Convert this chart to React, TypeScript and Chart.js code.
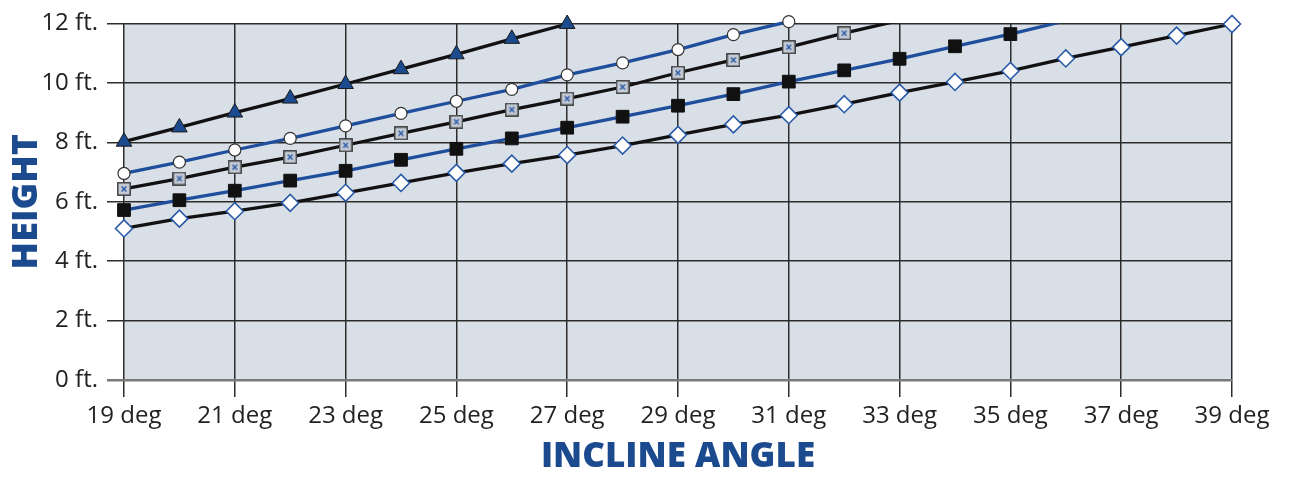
import React, { useEffect, useRef } from "react";
import { Chart, registerables } from "chart.js";

Chart.register(...registerables);

const xTickValues = [19, 21, 23, 25, 27, 29, 31, 33, 35, 37, 39];
const yTickValues = [0, 2, 4, 6, 8, 10, 12];

// Degrees for each series start at 19
const triangleHeights = [8.02, 8.5, 9.0, 9.47, 9.96, 10.46, 10.96, 11.48, 11.98];
const circleHeights = [6.95, 7.33, 7.74, 8.13, 8.55, 8.97, 9.38, 9.78, 10.27, 10.67, 11.12, 11.62, 12.06];
const squareXHeights = [6.43, 6.78, 7.16, 7.5, 7.9, 8.3, 8.69, 9.1, 9.47, 9.86, 10.34, 10.77, 11.2, 11.67];
const squareXLineEnd = [33, 12.1];
const blackSquareHeights = [5.72, 6.05, 6.37, 6.71, 7.04, 7.41, 7.78, 8.13, 8.49, 8.86, 9.23, 9.62, 10.04, 10.42, 10.81, 11.23, 11.64];
const blackSquareLineEnd = [36, 12.09];
const diamondHeights = [5.1, 5.43, 5.68, 5.96, 6.3, 6.63, 6.97, 7.28, 7.57, 7.89, 8.25, 8.6, 8.91, 9.28, 9.67, 10.03, 10.4, 10.82, 11.2, 11.59, 11.98];

const START_DEG = 19;
const BLUE = "#1c4a8e";
const LINE_BLUE = "#1f4f9c";
const LINE_BLACK = "#111111";

const toPoints = (vals: number[]) => vals.map((y, i) => ({ x: START_DEG + i, y }));

function makeSquareX(): HTMLCanvasElement {
  const c = document.createElement("canvas");
  c.width = 14;
  c.height = 14;
  const g = c.getContext("2d")!;
  g.fillStyle = "#c3cad3";
  g.fillRect(0.5, 0.5, 13, 13);
  g.strokeStyle = "#3a3a3a";
  g.lineWidth = 1.4;
  g.strokeRect(0.8, 0.8, 12.4, 12.4);
  g.strokeStyle = "#2b5aa8";
  g.lineWidth = 1.4;
  g.beginPath();
  g.moveTo(4.6, 4.6);
  g.lineTo(9.4, 9.4);
  g.moveTo(9.4, 4.6);
  g.lineTo(4.6, 9.4);
  g.stroke();
  return c;
}

const bgPlugin = {
  id: "plotBg",
  beforeDraw(chart: any) {
    const { ctx, chartArea } = chart;
    if (!chartArea) return;
    ctx.save();
    ctx.fillStyle = "#d8dfe7";
    ctx.fillRect(chartArea.left, chartArea.top, chartArea.right - chartArea.left, chartArea.bottom - chartArea.top);
    ctx.restore();
  },
};

export default function App() {
  const ref = useRef<HTMLCanvasElement>(null);

  useEffect(() => {
    document.body.style.margin = "0";
    const sq = makeSquareX();
    const sqPts = [...toPoints(squareXHeights), { x: squareXLineEnd[0], y: squareXLineEnd[1] }];
    const bsPts = [...toPoints(blackSquareHeights), { x: blackSquareLineEnd[0], y: blackSquareLineEnd[1] }];
    const chart = new Chart(ref.current!, {
      type: "line",
      data: {
        datasets: [
          {
            label: "diamond",
            data: toPoints(diamondHeights),
            borderColor: LINE_BLACK,
            borderWidth: 3.3,
            pointStyle: "rectRot",
            pointRadius: 8.5,
            pointBackgroundColor: "#ffffff",
            pointBorderColor: "#2a5aa6",
            pointBorderWidth: 1.6,
            clip: false,
          },
          {
            label: "blacksq",
            data: bsPts,
            borderColor: LINE_BLUE,
            borderWidth: 3.3,
            pointStyle: "rect",
            pointRadius: (c: any) => (c.dataIndex === bsPts.length - 1 ? 0 : 9),
            pointBackgroundColor: "#111111",
            pointBorderColor: "#111111",
            pointBorderWidth: 1,
            clip: { left: false, right: false, bottom: false, top: 0 } as any,
          },
          {
            label: "squarex",
            data: sqPts,
            borderColor: LINE_BLACK,
            borderWidth: 3.3,
            pointStyle: sq as any,
            pointRadius: (c: any) => (c.dataIndex === sqPts.length - 1 ? 0 : 7),
            clip: { left: false, right: false, bottom: false, top: 0 } as any,
          },
          {
            label: "circle",
            data: toPoints(circleHeights),
            borderColor: LINE_BLUE,
            borderWidth: 3.3,
            pointStyle: "circle",
            pointRadius: 6,
            pointBackgroundColor: "#ffffff",
            pointBorderColor: "#333333",
            pointBorderWidth: 1.2,
            clip: false,
          },
          {
            label: "triangle",
            data: toPoints(triangleHeights),
            borderColor: LINE_BLACK,
            borderWidth: 3.3,
            pointStyle: "triangle",
            pointRadius: 9,
            pointBackgroundColor: BLUE,
            pointBorderColor: "#1a1a1a",
            pointBorderWidth: 1,
            clip: false,
          },
        ],
      },
      options: {
        animation: false,
        responsive: false,
        events: [],
        layout: { padding: { top: 21, right: 57, left: 0, bottom: 0 } },
        plugins: { legend: { display: false }, tooltip: { enabled: false } },
        scales: {
          x: {
            type: "linear",
            min: 19,
            max: 39,
            afterBuildTicks: (s: any) => {
              s.ticks = xTickValues.map((v) => ({ value: v }));
            },
            afterFit: (s: any) => {
              s.height = 98;
            },
            grid: {
              color: "#2c2c2c",
              lineWidth: 1.5,
              drawTicks: true,
              tickLength: 17,
            },
            border: { display: false },
            ticks: {
              callback: (v: any) => `${v} deg`,
              font: { family: "'Open Sans'", size: 24 },
              color: "#222222",
              padding: 5,
              maxRotation: 0,
              autoSkip: false,
            },
            title: {
              display: true,
              text: "INCLINE ANGLE",
              color: BLUE,
              font: { family: "'Open Sans'", size: 35, weight: 800 as any },
              padding: { top: 0, bottom: 0 },
            },
          },
          y: {
            type: "linear",
            min: 0,
            max: 12,
            afterBuildTicks: (s: any) => {
              s.ticks = yTickValues.map((v) => ({ value: v }));
            },
            afterFit: (s: any) => {
              s.width = 124;
            },
            grid: {
              color: (c: any) => (c.tick && c.tick.value === 0 ? "#7a7a7a" : "#2c2c2c"),
              lineWidth: (c: any) => (c.tick && c.tick.value === 0 ? 2.5 : 1.5),
              drawTicks: true,
              tickLength: 17,
            },
            border: { display: false },
            ticks: {
              callback: (v: any) => `${v} ft.`,
              font: { family: "'Open Sans'", size: 24 },
              color: "#222222",
              padding: 9,
            },
            title: {
              display: true,
              text: "HEIGHT",
              color: BLUE,
              font: { family: "'Open Sans'", size: 36, weight: 800 as any },
              padding: { top: 5, bottom: 0 },
            },
          },
        },
      },
      plugins: [bgPlugin],
    } as any);
    return () => chart.destroy();
  }, []);

  return (
    <div style={{ position: "absolute", left: 0, top: 0, width: 1289, height: 478 }}>
      <canvas ref={ref} width={1289} height={478} style={{ display: "block" }} />
    </div>
  );
}
